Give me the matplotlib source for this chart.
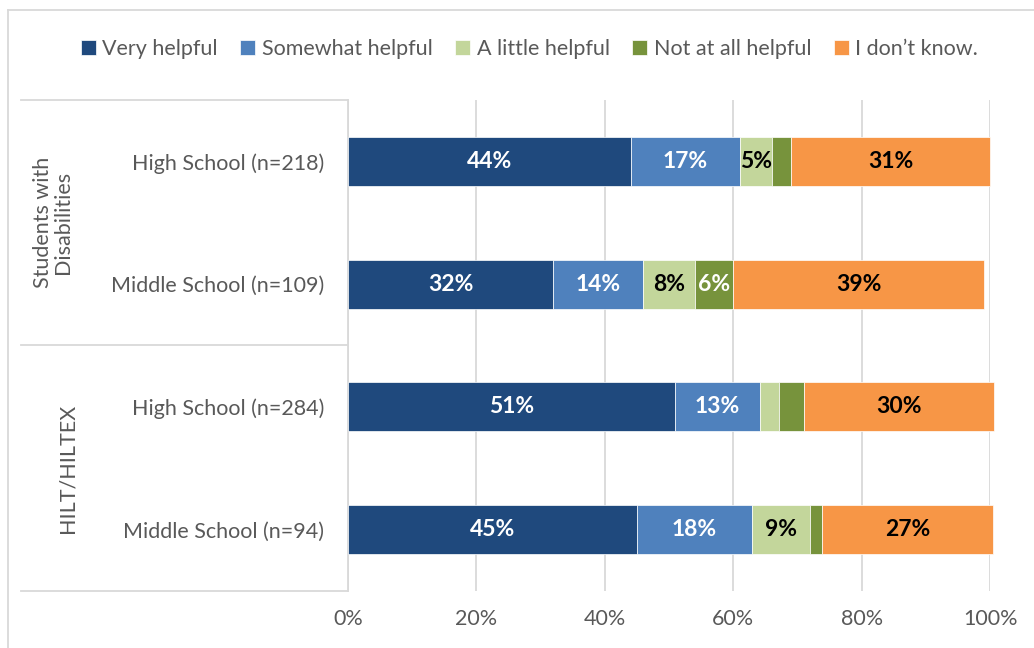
import matplotlib
matplotlib.use("Agg")
import matplotlib.pyplot as plt
from matplotlib.lines import Line2D

plt.rcParams['font.family'] = ['Lato', 'DejaVu Sans']

# data (percent), bottom row first
rows = ['Middle School (n=94)', 'High School (n=284)',
        'Middle School (n=109)', 'High School (n=218)']
groups = ['HILT/HILTEX', 'Students with\nDisabilities']
series = ['Very helpful', 'Somewhat helpful', 'A little helpful',
          'Not at all helpful', 'I don\u2019t know.']
very_helpful = [45.0, 51.0, 32.0, 44.0]
somewhat_helpful = [17.9, 13.1, 14.0, 17.0]
little_helpful = [9.1, 3.0, 8.0, 5.0]
not_helpful = [1.9, 3.9, 6.0, 3.0]
dont_know = [26.6, 29.6, 39.1, 31.0]

colors = ['#1F497D', '#4F81BD', '#C3D69B', '#77933C', '#F79646']
label_colors = ['white', 'white', 'black', 'white', 'black']
grey = '#595959'
line_c = '#D9D9D9'

fig = plt.figure(figsize=(10.34, 6.48), dpi=100)
xa, wa = 0.3366, 0.6209
ax = fig.add_axes([xa, 0.0880, wa, 0.7577])

data = [very_helpful, somewhat_helpful, little_helpful, not_helpful, dont_know]
left = [0.0] * len(rows)
ypos = list(range(len(rows)))
for vals, name, col, lc in zip(data, series, colors, label_colors):
    bars = ax.barh(ypos, vals, left=left, height=0.4, color=col, label=name,
                   edgecolor='white', linewidth=0.5, zorder=3, clip_on=False)
    for b, v in zip(bars, vals):
        if v >= 4.5:
            ax.text(b.get_x() + b.get_width() / 2, b.get_y() + b.get_height() / 2,
                    '{:.0f}%'.format(v), ha='center', va='center',
                    color=lc, fontsize=16.5, fontweight='bold', zorder=4)
    left = [l + v for l, v in zip(left, vals)]

ax.set_xlim(0, 100)
ax.set_ylim(-0.5, 3.5)
ax.set_xticks([0, 20, 40, 60, 80, 100])
ax.set_xticklabels(['0%', '20%', '40%', '60%', '80%', '100%'])
ax.set_yticks(ypos)
ax.set_yticklabels(rows)
ax.tick_params(axis='both', length=0, labelsize=15.5, labelcolor=grey)
ax.tick_params(axis='y', pad=17)
ax.tick_params(axis='x', pad=13)
ax.grid(axis='x', color=line_c, linewidth=1.3, zorder=0)
for s in ax.spines.values():
    s.set_visible(False)

# category axis frame
trans = ax.get_yaxis_transform()
x0 = (21 / 1034 - xa) / wa
for yv in [-0.5, 1.5, 3.5]:
    ax.plot([x0, 0], [yv, yv], transform=trans, color=line_c,
            linewidth=1.3, clip_on=False, zorder=1)
ax.plot([0, 0], [-0.5, 3.5], transform=trans, color=line_c, linewidth=1.3,
        clip_on=False, zorder=1)

# group labels
ax.text((53 / 1034 - xa) / wa, 2.5, groups[1], transform=trans, rotation=90,
        ha='center', va='center', fontsize=15.5, color=grey, linespacing=1.0)
ax.text((68 / 1034 - xa) / wa, 0.5, groups[0], transform=trans, rotation=90,
        ha='center', va='center', fontsize=15.5, color=grey)

# outer border
fig.add_artist(Line2D([8 / 1034, 1.0], [1 - 10 / 648, 1 - 10 / 648], color=line_c, linewidth=1.3))
fig.add_artist(Line2D([8 / 1034, 8 / 1034], [0, 1 - 10 / 648], color=line_c, linewidth=1.3))

fig.legend(loc='center', bbox_to_anchor=(0.512, 1 - 49 / 648), ncol=5,
           frameon=False, fontsize=15.5, labelcolor=grey, handlelength=0.7,
           handleheight=0.7, handletextpad=0.3, columnspacing=1.05)

plt.savefig('out.png', dpi=100)
